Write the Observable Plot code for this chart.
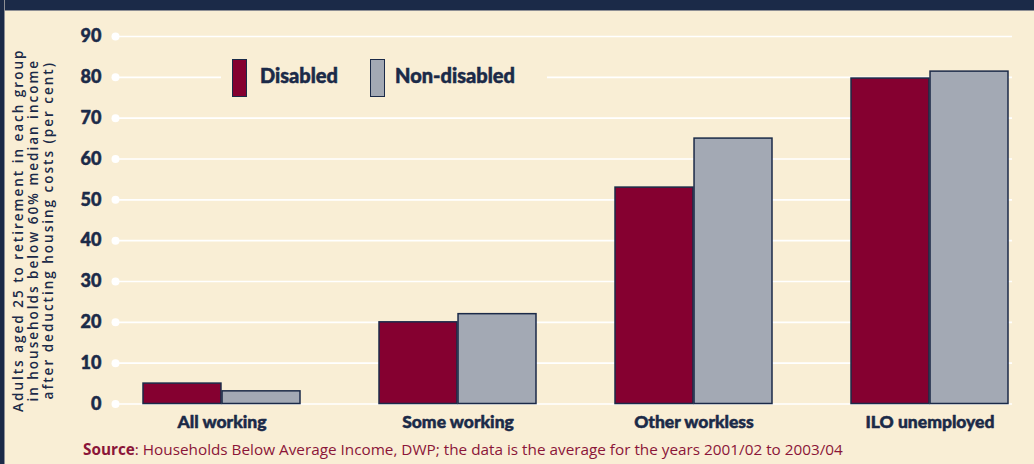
<!DOCTYPE html>
<html>
<head>
<meta charset="utf-8">
<script src="https://cdn.jsdelivr.net/npm/d3@7"></script>
<script src="https://cdn.jsdelivr.net/npm/@observablehq/plot@0.6"></script>
<style>
  html, body { margin: 0; padding: 0; background: #f9eed5; }
  #wrap { position: relative; width: 1034px; height: 464px; background: #f9eed5; overflow: hidden; font-family: Lato, "Open Sans", sans-serif; }
  #topbar { position: absolute; left: 0; top: 0; width: 1034px; height: 10px; background: #1b2a48; border-bottom: 1px solid #8e8f95; }
  #leftbar { position: absolute; left: 0; top: 0; width: 4px; height: 464px; background: #1b2a48; border-right: 1px solid #8e8f95; }
  #chart { position: absolute; left: 0; top: 0; }
  #legend { position: absolute; left: 221px; top: 50px; width: 326px; height: 58px; background: #f9eed5; }
  .sw { position: absolute; top: 9px; width: 13px; height: 36px; border: 1.5px solid #1b2a48; }
  .lt { position: absolute; top: 13px; font: 900 20px Lato, sans-serif; color: #1b2a48; -webkit-text-stroke: 0.5px #1b2a48; }
  #caption { position: absolute; left: 83px; top: 439px; font: 15.3px "Open Sans", sans-serif; color: #8b1538; white-space: nowrap; }
  #caption b { font-weight: 700; }
</style>
</head>
<body>
<div id="wrap">
  <div id="chart"></div>
  <div id="legend"></div>
  <div id="caption"></div>
  <div id="topbar"></div>
  <div id="leftbar"></div>
</div>
<script>
const categories = ["All working", "Some working", "Other workless", "ILO unemployed"];
const series = ["Disabled", "Non-disabled"];
const disabled = [5, 20, 53, 79.7];
const nonDisabled = [3.1, 22, 65, 81.4];
const yTicks = [0, 10, 20, 30, 40, 50, 60, 70, 80, 90];
const colors = ["#850030", "#a3a9b4"];
const yLabel = "Adults aged 25 to retirement in each group\nin households below 60% median income\nafter deducting housing costs (per cent)";
const sourceLabel = "Source";
const sourceText = ": Households Below Average Income, DWP; the data is the average for the years 2001/02 to 2003/04";

const navy = "#1b2a48";
const data = categories.flatMap((c, i) => [
  {category: c, series: series[0], value: disabled[i]},
  {category: c, series: series[1], value: nonDisabled[i]}
]);

const xRange = [141, 1010];
const padInner = 0.333;
const bw = (xRange[1] - xRange[0]) / (categories.length - padInner) * (1 - padInner);

const plot = Plot.plot({
  width: 1034,
  height: 440,
  marginTop: 36,
  marginBottom: 36.5,
  marginLeft: 118,
  marginRight: 22,
  style: {background: "transparent", overflow: "visible"},
  x: {domain: categories, range: xRange, paddingInner: padInner, paddingOuter: 0, label: null},
  y: {domain: [0, 90], label: null},
  marks: [
    Plot.ruleY(yTicks, {stroke: "white", strokeWidth: 1.6}),
    Plot.dot(yTicks, {y: d => d, frameAnchor: "left", dx: -3, r: 4, fill: "white", stroke: "none"}),
    Plot.barY(data.filter(d => d.series === series[0]), {x: "category", y: "value", fill: colors[0], stroke: navy, strokeWidth: 1.5, insetRight: bw / 2}),
    Plot.barY(data.filter(d => d.series === series[1]), {x: "category", y: "value", fill: colors[1], stroke: navy, strokeWidth: 1.5, insetLeft: bw / 2}),
    Plot.axisY({ticks: yTicks, tickSize: 0, tickPadding: 17, fontSize: 18, fontWeight: 900, fill: navy, textStroke: navy, textStrokeWidth: 0.5, fontFamily: "Lato", label: null}),
    Plot.axisX({tickSize: 0, tickPadding: 12, fontSize: 17.5, fontWeight: 900, fill: navy, textStroke: navy, textStrokeWidth: 0.5, fontFamily: "Lato", label: null}),
    Plot.text([yLabel], {frameAnchor: "left", dx: -85, dy: 10, rotate: -90, textAnchor: "middle", fontSize: 13.5, fontWeight: 600, fill: navy, fontFamily: "Open Sans", lineHeight: 1.1, lineAnchor: "middle"})
  ]
});
document.getElementById("chart").appendChild(plot);

// widen letter spacing of the rotated y-axis title
d3.select(plot).selectAll("text").filter(function() { return this.textContent.startsWith("Adults"); })
  .style("letter-spacing", "2px");

const legend = document.getElementById("legend");
const swX = [11, 149];
const txX = [39, 174];
series.forEach((s, i) => {
  const sw = document.createElement("div");
  sw.className = "sw";
  sw.style.left = swX[i] + "px";
  sw.style.background = colors[i];
  legend.appendChild(sw);
  const t = document.createElement("div");
  t.className = "lt";
  t.style.left = txX[i] + "px";
  t.textContent = s;
  legend.appendChild(t);
});

const cap = document.getElementById("caption");
const b = document.createElement("b");
b.textContent = sourceLabel;
cap.appendChild(b);
cap.appendChild(document.createTextNode(sourceText));
</script>
</body>
</html>
